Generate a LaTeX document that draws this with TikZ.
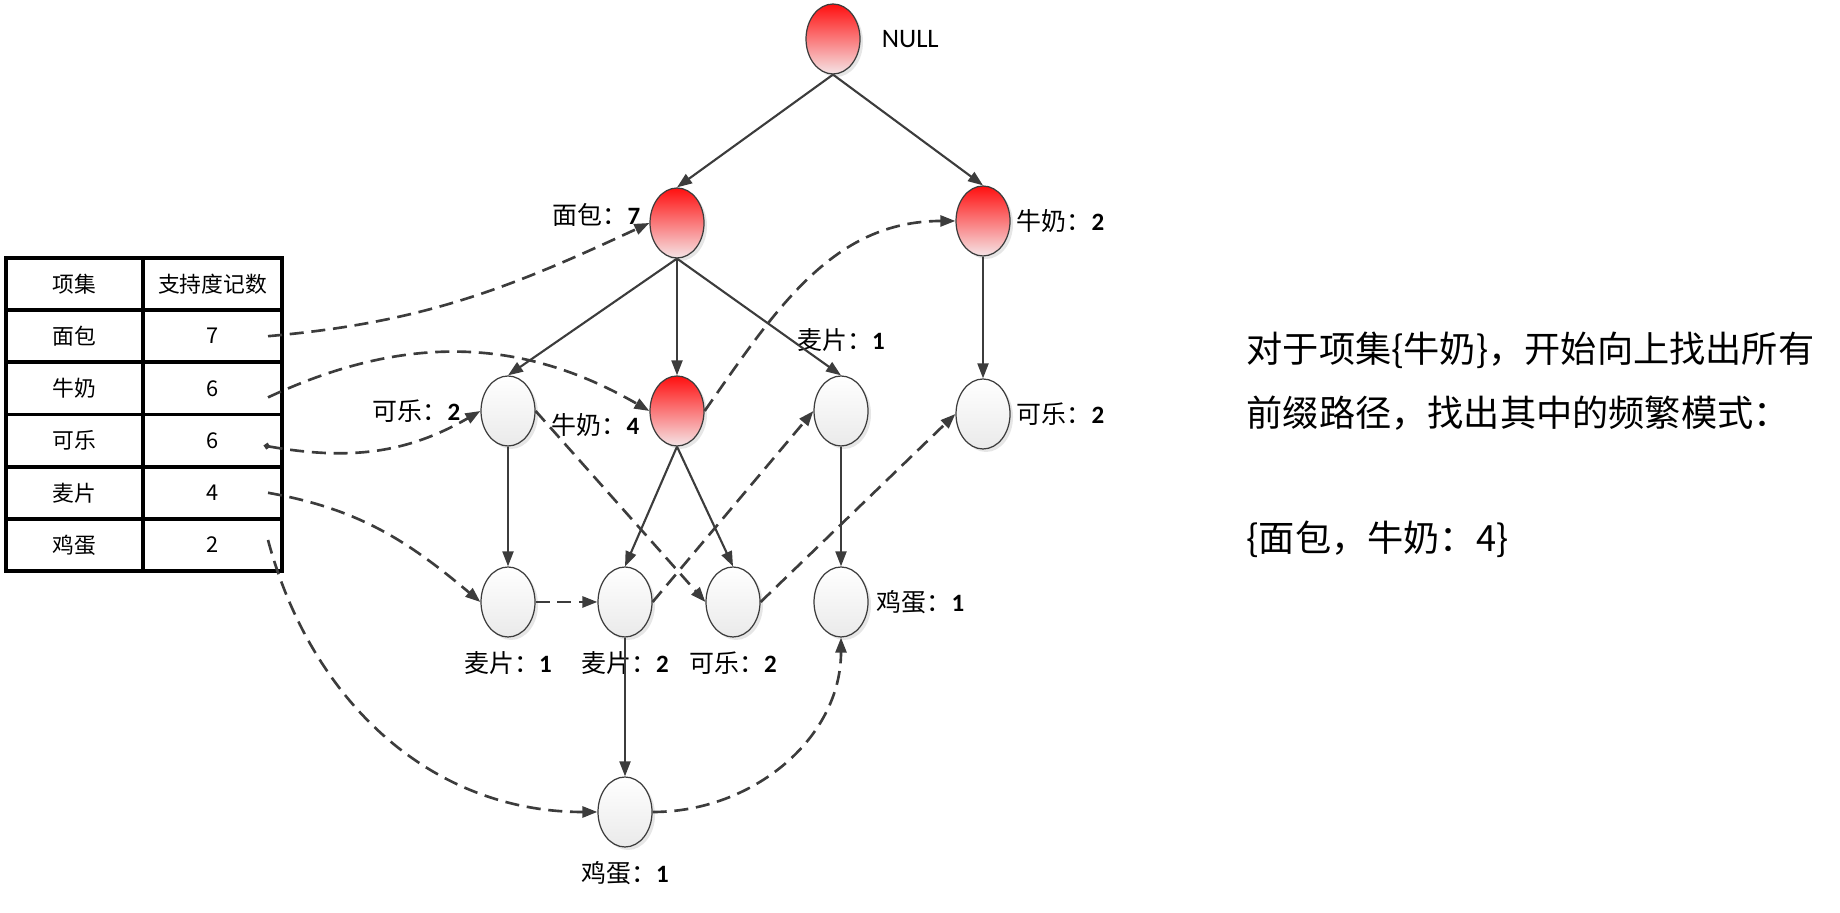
\documentclass[tikz,border=0pt]{standalone}
\usepackage{fontspec}
\setmainfont{Carlito}
\newfontfamily\cjk{Noto Sans CJK SC}
\usetikzlibrary{arrows.meta, positioning, shapes.geometric, shadows}
\definecolor{linegray}{RGB}{60, 60, 60}
\definecolor{nodered}{RGB}{255, 16, 16}
\definecolor{palepink}{RGB}{245, 228, 230}
\definecolor{palegray}{RGB}{234, 234, 234}
\newcommand{\countlbl}[2]{{\cjk #1：}{\bfseries #2}}

\begin{document}
\begin{tikzpicture}[
  font=\fontsize{7.1}{8.5}\selectfont,
  ball/.style={ellipse, draw=linegray, line width=0.35pt, minimum width=0.54cm,
    minimum height=0.70cm, inner sep=0pt,
    drop shadow={shadow xshift=0.3mm, shadow yshift=-0.3mm, opacity=0.2}},
  redball/.style={ball, top color=nodered, bottom color=palepink},
  greyball/.style={ball, top color=white, bottom color=palegray},
  lbl/.style={inner sep=1pt},
  cell/.style={rectangle, draw=black, line width=1.1pt, minimum width=1.37cm,
    minimum height=0.522cm, inner sep=0pt, outer sep=0pt,
    font=\cjk\fontsize{6.2}{7}\selectfont},
  cellw/.style={cell, minimum width=1.39cm},
  arr/.style={-{Triangle[length=1.5mm, width=1.1mm]}, linegray, line width=0.6pt},
  darr/.style={arr, line width=0.75pt, dash pattern=on 4pt off 2.2pt}
]
\useasboundingbox (0,0) rectangle (18.40,9.13);

% table of items
\node[cell] (head1) at (0.745, 6.29) {项集};
\node[cellw, right=0pt of head1] (head2) {支持度记数};
\node[cell, below=0pt of head1] (item1) {面包};
\node[cellw, right=0pt of item1] (cnt1) {7};
\node[cell, below=0pt of item1] (item2) {牛奶};
\node[cellw, right=0pt of item2] (cnt2) {6};
\node[cell, below=0pt of item2] (item3) {可乐};
\node[cellw, right=0pt of item3] (cnt3) {6};
\node[cell, below=0pt of item3] (item4) {麦片};
\node[cellw, right=0pt of item4] (cnt4) {4};
\node[cell, below=0pt of item4] (item5) {鸡蛋};
\node[cellw, right=0pt of item5] (cnt5) {2};

% FP tree
\node[redball] (root) at (8.33, 8.74) {};
\node[redball] (bread) at (6.77, 6.90) {};
\node[redball] (milk2) at (9.83, 6.92) {};
\node[greyball] (cola2a) at (5.08, 5.02) {};
\node[redball] (milk4) at (6.77, 5.02) {};
\node[greyball] (oat1a) at (8.41, 5.02) {};
\node[greyball] (cola2b) at (9.83, 4.99) {};
\node[greyball] (oat1b) at (5.08, 3.11) {};
\node[greyball] (oat2) at (6.25, 3.11) {};
\node[greyball] (cola2c) at (7.33, 3.11) {};
\node[greyball] (egg1a) at (8.41, 3.11) {};
\node[greyball] (egg1b) at (6.25, 1.01) {};

\node[lbl, right=0.17cm of root, font=\fontsize{7.6}{8}\selectfont] (rootlbl) {NULL};
\node[lbl, left=0.05cm of bread, yshift=0.08cm] (breadlbl) {\countlbl{面包}{7}};
\node[lbl, right=0.02cm of milk2] (milk2lbl) {\countlbl{牛奶}{2}};
\node[lbl, left=0.16cm of cola2a] (cola2albl) {\countlbl{可乐}{2}};
\node[lbl, left=0.06cm of milk4, yshift=-0.14cm] (milk4lbl) {\countlbl{牛奶}{4}};
\node[lbl, above=0.2cm of oat1a] (oat1albl) {\countlbl{麦片}{1}};
\node[lbl, right=0.02cm of cola2b] (cola2blbl) {\countlbl{可乐}{2}};
\node[lbl, below=0.1cm of oat1b] (oat1blbl) {\countlbl{麦片}{1}};
\node[lbl, below=0.1cm of oat2] (oat2lbl) {\countlbl{麦片}{2}};
\node[lbl, below=0.1cm of cola2c] (cola2clbl) {\countlbl{可乐}{2}};
\node[lbl, right=0.04cm of egg1a] (egg1albl) {\countlbl{鸡蛋}{1}};
\node[lbl, below=0.1cm of egg1b] (egg1blbl) {\countlbl{鸡蛋}{1}};

\draw[arr] (root.south) -- (bread.north);
\draw[arr] (root.south) -- (milk2.north);
\draw[arr] (bread.south) -- (cola2a.north);
\draw[arr] (bread.south) -- (milk4.north);
\draw[arr] (bread.south) -- (oat1a.north);
\draw[arr] (milk2.south) -- (cola2b.north);
\draw[arr] (cola2a.south) -- (oat1b.north);
\draw[arr] (milk4.south) -- (oat2.north);
\draw[arr] (milk4.south) -- (cola2c.north);
\draw[arr] (oat1a.south) -- (egg1a.north);
\draw[arr] (oat2.south) -- (egg1b.north);

% header links
\draw[darr] ([xshift=-1.4mm]cnt1.east) to[out=5, in=205] (bread.west);
\draw[darr] ([xshift=-1.4mm, yshift=-0.9mm]cnt2.east) to[out=25, in=150] (milk4.west);
\draw[darr] (milk4.east) to[out=55, in=180] (milk2.west);
\draw[darr, {Circle[open, length=0.6mm]}-{Triangle[length=1.5mm, width=1.1mm]}]
  ([xshift=-1.8mm, yshift=-0.5mm]cnt3.east) to[out=-10, in=210] (cola2a.west);
\draw[darr] (cola2a.east) -- (cola2c.west);
\draw[darr] (cola2c.east) -- (cola2b.west);
\draw[darr] ([xshift=-1.4mm]cnt4.east) to[out=-10, in=140] (oat1b.west);
\draw[darr] (oat1b.east) -- (oat2.west);
\draw[darr] (oat2.east) -- (oat1a.west);
\draw[darr] ([xshift=-1.4mm, yshift=0.5mm]cnt5.east) to[out=-75, in=180] (egg1b.west);
\draw[darr] (egg1b.east) to[out=0, in=-90] (egg1a.south);

% note
\node[anchor=west, inner sep=0pt, font=\cjk\fontsize{10.3}{12}\selectfont] (note1) at (12.46, 5.63) {对于项集\{牛奶\}，开始向上找出所有};
\node[anchor=west, inner sep=0pt, font=\cjk\fontsize{10.3}{12}\selectfont] (note2) at (12.46, 5.00) {前缀路径，找出其中的频繁模式：};
\node[anchor=west, inner sep=0pt, font=\cjk\fontsize{10.3}{12}\selectfont] (note3) at (12.46, 3.74) {\{面包，牛奶：4\}};

\end{tikzpicture}
\end{document}
